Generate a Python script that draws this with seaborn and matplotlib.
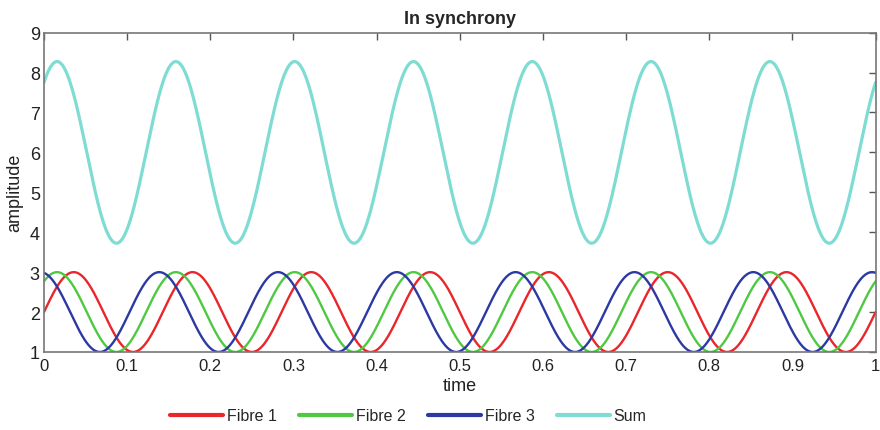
import numpy as np
import pandas as pd
import matplotlib
matplotlib.use("Agg")
import matplotlib.pyplot as plt
from matplotlib.lines import Line2D
import seaborn as sns

# Signal parameters for the three fibres
fibre_names = ["Fibre 1", "Fibre 2", "Fibre 3"]
fibre_delays = [0.0, 0.02, 0.04]      # time lead of each fibre (s)
fibre_baseline = [2.0, 2.0, 2.0]
fibre_amplitude = [1.0, 1.0, 1.0]
frequency_hz = 7.0
sum_name = "Sum"

series_colors = {
    "Fibre 1": "#e8262b",
    "Fibre 2": "#4fc842",
    "Fibre 3": "#2d39a3",
    "Sum": "#7fdcd3",
}
series_widths = {"Fibre 1": 1.7, "Fibre 2": 1.7, "Fibre 3": 1.7, "Sum": 2.3}

x_ticks = [0, 0.1, 0.2, 0.3, 0.4, 0.5, 0.6, 0.7, 0.8, 0.9, 1]
x_tick_labels = ["0", "0.1", "0.2", "0.3", "0.4", "0.5", "0.6", "0.7", "0.8", "0.9", "1"]
y_ticks = [1, 2, 3, 4, 5, 6, 7, 8, 9]

t = np.linspace(0, 1, 2001)
frames = []
total = np.zeros_like(t)
for name, d, b, a in zip(fibre_names, fibre_delays, fibre_baseline, fibre_amplitude):
    y = b + a * np.sin(2 * np.pi * frequency_hz * (t + d))
    total += y
    frames.append(pd.DataFrame({"time": t, "amplitude": y, "series": name}))
frames.append(pd.DataFrame({"time": t, "amplitude": total, "series": sum_name}))
df = pd.concat(frames, ignore_index=True)

sns.set_style("white")
plt.rcParams["font.family"] = ["Liberation Sans", "DejaVu Sans"]

fig = plt.figure(figsize=(8.8, 4.31), dpi=100)
ax = fig.add_axes([0.05, 0.181, 0.945, 0.741])

order = fibre_names + [sum_name]
for name in order:
    sub = df[df["series"] == name]
    sns.lineplot(data=sub, x="time", y="amplitude", ax=ax, color=series_colors[name],
                 linewidth=series_widths[name], legend=False)

ax.set_xlim(0, 1)
ax.set_ylim(1, 9)
ax.set_xticks(x_ticks)
ax.set_xticklabels(x_tick_labels)
ax.set_yticks(y_ticks)
ax.tick_params(direction="in", length=5, width=1, colors="#555555", labelcolor="#222222",
               labelsize=12, top=True, right=True, pad=4)
ax.tick_params(axis="y", labelsize=13, pad=3)
for s in ax.spines.values():
    s.set_color("#777777")
    s.set_linewidth(1.2)
ax.set_xlabel("time", fontsize=13, color="#222222", labelpad=3)
ax.set_ylabel("amplitude", fontsize=13, color="#222222", labelpad=5)
ax.set_title("In synchrony", fontsize=13, fontweight="bold", pad=7)

handles = [Line2D([], [], color=series_colors[n], linewidth=3) for n in order]
fig.legend(handles, order, loc="center", bbox_to_anchor=(0.464, 0.033), ncol=4,
           frameon=False, fontsize=11.5, handlelength=3.3, columnspacing=1.4, handletextpad=0.25)

fig.savefig("out.png", dpi=100)
